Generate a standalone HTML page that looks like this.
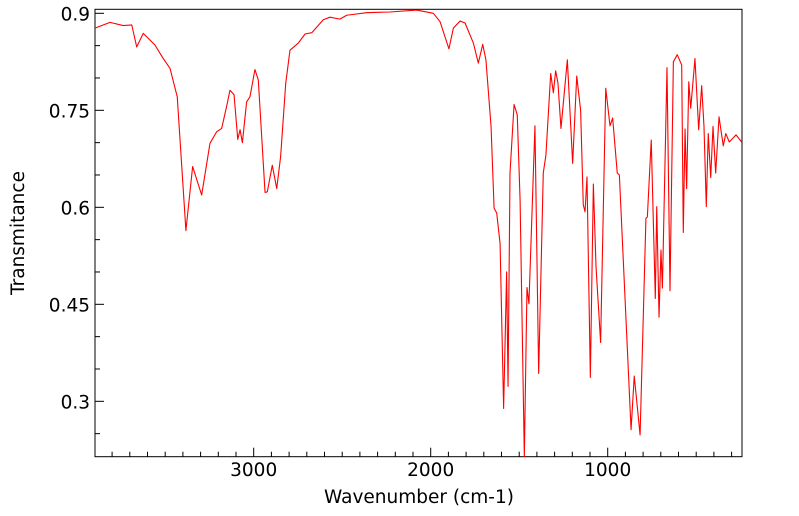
<!DOCTYPE html>
<html><head><meta charset="utf-8"><style>
html,body{margin:0;padding:0;background:#fff;}
svg{display:block;font-family:"DejaVu Sans","Liberation Sans",sans-serif;}
</style></head><body>
<svg id="chart" width="799" height="516" viewBox="0 0 799 516" xmlns="http://www.w3.org/2000/svg">
<rect x="95" y="9.3" width="647" height="447.4" fill="none" stroke="#000" stroke-width="1"/>
<g id="ticks"></g>
<g id="labels"></g>
<path id="line" fill="none" stroke="#ff0000" stroke-width="1.1" stroke-linejoin="round"/>
<text x="419" y="503" font-size="18.5" text-anchor="middle">Wavenumber (cm-1)</text>
<text x="0" y="0" font-size="18.5" text-anchor="middle" transform="translate(24,233) rotate(-90)">Transmitance</text>
</svg>
<script>
const wavenumbers = [3897,3812,3737,3689,3661,3624,3558,3511,3473,3432,3383,3345,3294,3247,3209,3181,3153,3134,3111,3090,3077,3064,3040,3021,2993,2974,2936,2923,2895,2870,2848,2819,2795,2748,2710,2672,2607,2569,2512,2475,2362,2230,2079,1985,1947,1897,1872,1834,1806,1759,1731,1706,1688,1659,1642,1627,1608,1588,1571,1563,1552,1529,1511,1495,1471,1456,1445,1411,1390,1364,1349,1322,1307,1294,1281,1264,1228,1198,1175,1153,1138,1128,1117,1098,1081,1066,1040,1011,987,972,946,934,893,868,850,817,784,776,754,731,723,710,699,691,665,648,629,607,582,573,563,554,542,531,507,486,469,456,443,432,418,405,390,371,347,333,313,275,243];
const transmittance = [0.877,0.886,0.881,0.882,0.848,0.869,0.851,0.830,0.815,0.771,0.564,0.663,0.619,0.699,0.717,0.722,0.756,0.781,0.774,0.705,0.720,0.700,0.763,0.771,0.813,0.797,0.623,0.624,0.665,0.629,0.678,0.792,0.843,0.854,0.868,0.870,0.890,0.894,0.891,0.897,0.901,0.902,0.905,0.900,0.887,0.845,0.877,0.888,0.885,0.854,0.823,0.852,0.828,0.725,0.599,0.591,0.544,0.289,0.500,0.323,0.653,0.759,0.743,0.611,0.209,0.476,0.451,0.726,0.343,0.653,0.681,0.807,0.777,0.811,0.792,0.722,0.828,0.668,0.803,0.750,0.604,0.593,0.647,0.337,0.636,0.508,0.391,0.784,0.726,0.738,0.653,0.650,0.405,0.256,0.339,0.248,0.583,0.585,0.704,0.459,0.601,0.430,0.534,0.475,0.816,0.471,0.825,0.836,0.820,0.561,0.721,0.629,0.794,0.753,0.830,0.720,0.788,0.725,0.601,0.714,0.646,0.725,0.653,0.740,0.695,0.714,0.701,0.712,0.701];
const xTickValues = [3000,2000,1000];
const xTickLabels = ["3000","2000","1000"];
const yTickValues = [0.3,0.45,0.6,0.75,0.9];
const yTickLabels = ["0.3","0.45","0.6","0.75","0.9"];

const PL=95,PR=742,PT=9.3,PB=456.7;
function xs(w){return 430.7-(w-2000)*0.177;}
function ys(t){return 13.3+(0.9-t)*646.7;}
const NS="http://www.w3.org/2000/svg";
const tg=document.getElementById('ticks'), lg=document.getElementById('labels');
function ln(x1,y1,x2,y2,name){const l=document.createElementNS(NS,'line');
l.setAttribute('x1',x1);l.setAttribute('y1',y1);l.setAttribute('x2',x2);l.setAttribute('y2',y2);
l.setAttribute('stroke','#000');l.setAttribute('stroke-width','1');


tg.appendChild(l);}
for(let w=300;w<=3800;w+=100){const x=xs(w);if(x<PL||x>PR)continue;
const major=w%1000===0;ln(x,PB,x,PB-(major?9:5),major?'x-major-tick':'x-minor-tick');}
for(let i=0;i<=14;i++){const t=0.25+i*0.05;const y=ys(t);if(y<PT||y>PB)continue;
const major=Math.abs(((t-0.3)/0.15)-Math.round((t-0.3)/0.15))<1e-6;
ln(PL,y,PL+(major?9:5),y,major?'y-major-tick':'y-minor-tick');}
xTickValues.forEach((v,i)=>{const t=document.createElementNS(NS,'text');
t.setAttribute('x',xs(v));t.setAttribute('y',476);t.setAttribute('font-size','18.5');t.setAttribute('text-anchor','middle');
t.textContent=xTickLabels[i];


lg.appendChild(t);});
yTickValues.forEach((v,i)=>{const t=document.createElementNS(NS,'text');
t.setAttribute('x',90);t.setAttribute('y',ys(v)+7);t.setAttribute('font-size','18.5');t.setAttribute('text-anchor','end');
t.textContent=yTickLabels[i];


lg.appendChild(t);});
let d='';
wavenumbers.forEach((w,i)=>{let y=Math.min(ys(transmittance[i]),PB);d+=(i?'L':'M')+xs(w).toFixed(2)+','+y.toFixed(2);});
document.getElementById('line').setAttribute('d',d);
</script>
</body></html>
